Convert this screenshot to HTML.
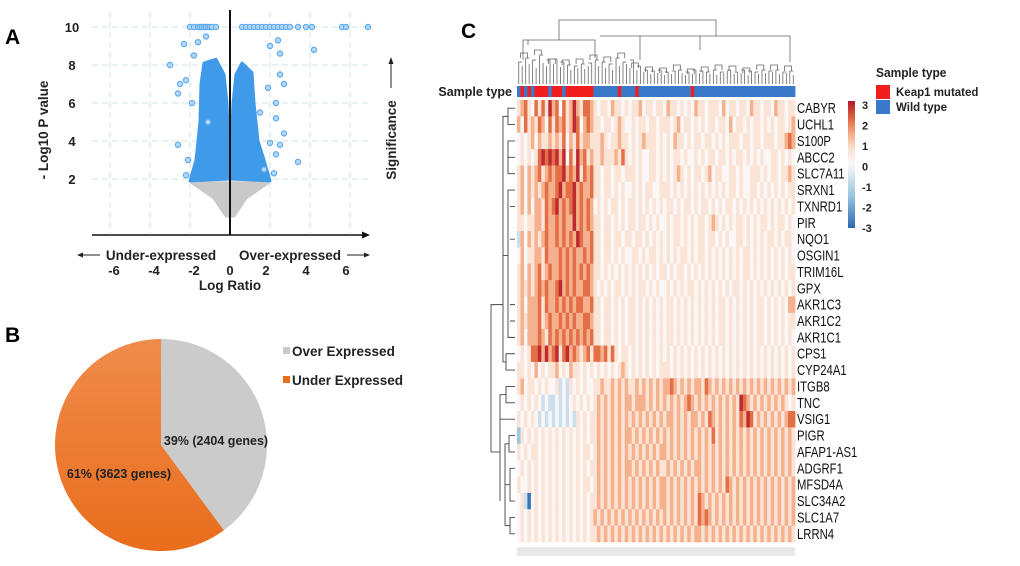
<!DOCTYPE html>
<html><head><meta charset="utf-8"><style>
body{margin:0;background:#fff}
svg{display:block;font-family:"Liberation Sans",sans-serif}
</style></head><body>
<svg id="fig" width="1020" height="566" viewBox="0 0 1020 566">
<g id="pA"></g>
<g id="pB"></g>
<g id="pC"></g>
</svg>
<script>
// ---------- Panel A data ----------
const xTicks = [-6,-4,-2,0,2,4,6];
const yTicks = [2,4,6,8,10];
const leftLobe = [[-0.05,2],[-0.08,4],[-0.15,6],[-0.3,7.5],[-0.7,8.3],[-1.3,8.1],[-1.45,7],[-1.5,5],[-1.7,3],[-2.0,1.9]];
const rightLobe = [[0.05,2],[0.08,4],[0.15,6],[0.3,7.5],[0.6,8.1],[1.1,7.6],[1.2,6],[1.4,4],[1.7,3],[2.0,1.9]];
const grayCone = [[-1.9,1.8],[1.9,1.8],[0.8,1.0],[0.2,0.05],[-0.2,0.05],[-0.8,1.0]];
const topX = [-2.0,-1.8,-1.6,-1.5,-1.4,-1.3,-1.2,-1.1,-1.0,-0.9,-0.7,0.6,0.8,1.0,1.2,1.4,1.6,1.8,2.0,2.2,2.4,2.6,2.8,3.0,3.4,3.8,4.1,5.6,5.8,6.9];
const outX = [-3,-2.3,-2.5,-2.6,-2.6,-2.1,-2.2,-1.8,-1.6,-1.2,2.4,2.0,2.5,4.2,2.5,2.7,2.3,2.3,2.7,2.0,2.5,2.3,3.4,1.7,2.2,-1.1,1.5,-1.9,1.9,-2.2];
const outY = [8,9.1,7,6.5,3.8,3,2.2,8.5,9.2,9.5,9.3,9,8.6,8.8,7.5,7,6,5.2,4.4,3.9,3.8,3.3,2.9,2.5,2.3,5,5.5,6,6.8,7.2];
// ---------- Panel B data ----------
const pieLabels = ["Over Expressed","Under Expressed"];
const pieValues = [2404,3623];
const pieText = ["39% (2404 genes)","61% (3623 genes)"];
// ---------- Panel C data ----------
const genes = ["CABYR","UCHL1","S100P","ABCC2","SLC7A11","SRXN1","TXNRD1","PIR","NQO1","OSGIN1","TRIM16L","GPX","AKR1C3","AKR1C2","AKR1C1","CPS1","CYP24A1","ITGB8","TNC","VSIG1","PIGR","AFAP1-AS1","ADGRF1","MFSD4A","SLC34A2","SLC1A7","LRRN4"];
const sampleType = "WKWKWKKKKWKKKWKKKKKKKK"+"WWWWWWWKWWWWKWWWWWWWWWWWWWWWKWWWWWWWWWWWWWWWWWWWWWWWWWWWWW";
// codes 0..8 -> value (d-4)*0.7
const heatRows = [
"5675475758 6747568657 76 5455465545 4556455455 4655454546 5545554645 5455465545 54655455",
"6475657647 5767568746 76 5545545654 4545545545 5545645545 4545545546 4554545545 45455456",
"4545646556 5657465756 65 5565455655 4545655545 4546554545 5455454545 5545545545 55455676",
"4545457878 7868475867 56 5565556575 4545445545 4545545445 4545545545 4554545454 45545454",
"5646567567 6778676857 67 5545545545 5545445545 4545654545 5456455445 5454455545 45545565",
"5646565676 6786778676 67 5545545454 4545455445 5545454545 4545454545 5454455454 54545455",
"5646466576 7867678676 76 4545455454 5545454545 4554545545 4554545455 4545454545 45454545",
"5545566576 6767668676 76 5545545454 5545545454 4545545454 5545654545 4554545455 45455454",
"3646565676 6767676876 67 5545545545 5455454545 4545545454 5545545454 4554545454 55454554",
"4645566576 6676767667 67 5545545454 4554545545 4545455454 5545454545 4545545454 54545454",
"5646567567 6676767676 76 5545454545 4545454545 5454554545 4545454545 4545545454 54545455",
"5656567676 6786767667 76 5454545545 4545545454 4545454554 5454545454 5545454545 45454545",
"5646667576 6767676776 67 5545545454 5545454545 4554545454 5454545545 4545454554 54545466",
"5656667567 6676767667 76 5545545454 5545454545 4554545454 5454545545 4545454554 54545455",
"5646667657 6767676767 67 5545545454 5545454545 4554545454 5454545545 4545454554 54545454",
"4545778686 7857867656 75 7767575455 4545454545 4545454545 4545454545 4545454545 45454545",
"5545464545 5645465545 45 4545454565 4545454545 5545454545 4545454545 4545454545 45454545",
"5645545454 4534354545 44 5565565656 5565656565 6676565656 6576565656 5656565656 56565656",
"4545454343 3434345454 54 5656565656 6566656565 6565656765 6565656565 6587656565 65656545",
"5454543434 3434343545 45 5656565656 5656565656 5665656566 5657656565 6576875656 56565677",
"2545454545 4545454545 45 5656565656 6565656565 6565656565 6565756565 6565656565 65656565",
"5454554545 4545454545 54 5656565656 5656565656 6565656565 6565656565 6565656565 65656565",
"4545454545 4545454545 45 5656565656 6565656565 5656565656 6565656565 6565656565 65656565",
"5445454545 4545454545 54 5656565656 5656565656 6565656565 6565656576 5656565656 56565656",
"4530454545 4545454545 45 5656565656 5656565656 6565656565 7656565656 5656565656 56565656",
"4545454545 4545454545 45 6565656565 6565656565 6565656565 7676565656 5656565656 56565656",
"4545454545 4545454545 45 5656565656 5656565656 5656565656 6565656565 6565656565 65656565"
];
const colorTicks = [3,2,1,0,-1,-2,-3];
const leafHeights = [62,66,58,64,60,68,55,63,66,60,64,59,67,62,65,70,66,68,64,69,66,63,60,66,62,68,64,70,58,66,62,64,68,60,70,66,72,70,74,71,73,70,75,72,74,71,70,73,75,72,74,70,73,71,72,74,70,75,72,73,71,70,74,72,73,70,75,71,72,74,70,73,71,72,70,74,72,73,71,75];

const NS="http://www.w3.org/2000/svg";
function mk(tag,attrs,parent,txt){const e=document.createElementNS(NS,tag);for(const k in attrs)e.setAttribute(k,attrs[k]);if(txt!==undefined)e.textContent=txt;parent.appendChild(e);return e;}

// ---------- Panel A ----------
const A=document.getElementById('pA');
const xs=v=>230+v*20, ys=v=>217-v*19;
let t=mk('text',{x:5,y:44,'font-size':21,'font-weight':'bold'},A,'A');


const grid=mk('g',{stroke:'#cfe3ea','stroke-width':1,'stroke-dasharray':'6,4'},A);


xTicks.forEach(v=>{mk('line',{x1:xs(v),x2:xs(v),y1:12,y2:233},grid);});
[...yTicks].forEach(v=>{mk('line',{x1:92,x2:370,y1:ys(v),y2:ys(v)},grid);});
function poly(pts,fill,name){const p=mk('polygon',{points:pts.map(q=>xs(q[0])+','+ys(q[1])).join(' '),fill:fill,stroke:fill,'stroke-width':3,'stroke-linejoin':'round'},A);}
poly(grayCone,'#c9c9c9','nonsignificant-cloud');
poly(leftLobe,'#3f9be9','underexpressed-cloud');
poly(rightLobe,'#3f9be9','overexpressed-cloud');
const pts=mk('g',{fill:'#b5d8f7',stroke:'#5eaaee','stroke-width':1.2},A);


topX.forEach(v=>{const c=mk('circle',{cx:xs(v),cy:ys(10),r:2.6},pts);});
outX.forEach((v,i)=>{const c=mk('circle',{cx:xs(v),cy:ys(outY[i]),r:2.6},pts);});
mk('line',{x1:230,x2:230,y1:10,y2:235,stroke:'#111','stroke-width':2},A);
const xax=mk('line',{x1:92,x2:364,y1:235,y2:235,stroke:'#111','stroke-width':1.5},A);

mk('polygon',{points:'370,235 362,231.5 362,238.5',fill:'#111'},A);
const lab=mk('g',{'font-size':13,'font-weight':'bold',fill:'#222'},A);
yTicks.forEach(v=>{const e=mk('text',{x:72,y:ys(v)+5,'text-anchor':'middle'},lab,String(v));});
xTicks.forEach(v=>{const e=mk('text',{x:xs(v)+(v<0?4:v>0?-4:0),y:275,'text-anchor':'middle'},lab,String(v));});
t=mk('text',{x:161,y:260,'text-anchor':'middle','font-size':13.5,'font-weight':'bold',fill:'#222'},A,'Under-expressed');
t=mk('text',{x:290,y:260,'text-anchor':'middle','font-size':13.5,'font-weight':'bold',fill:'#222'},A,'Over-expressed');
mk('line',{x1:80,x2:100,y1:255,y2:255,stroke:'#222','stroke-width':1},A);mk('polygon',{points:'77,255 83,252.5 83,257.5',fill:'#222'},A);
mk('line',{x1:347,x2:366,y1:255,y2:255,stroke:'#222','stroke-width':1},A);mk('polygon',{points:'370,255 364,252.5 364,257.5',fill:'#222'},A);
t=mk('text',{x:230,y:290,'text-anchor':'middle','font-size':13.5,'font-weight':'bold',fill:'#222'},A,'Log Ratio');
t=mk('text',{x:0,y:0,'text-anchor':'middle','font-size':13.5,'font-weight':'bold',fill:'#222',transform:'translate(48,130) rotate(-90)'},A,'- Log10 P value');
t=mk('text',{x:0,y:0,'text-anchor':'middle','font-size':13.5,'font-weight':'bold',fill:'#222',transform:'translate(396,140) rotate(-90)'},A,'Significance');
mk('line',{x1:391,x2:391,y1:62,y2:88,stroke:'#222','stroke-width':1},A);mk('polygon',{points:'391,57 388.5,64 393.5,64',fill:'#222'},A);

// ---------- Panel B ----------
const B=document.getElementById('pB');
t=mk('text',{x:5,y:342,'font-size':21,'font-weight':'bold'},B,'B');
const defs=mk('defs',{},B);
const lg=mk('linearGradient',{id:'og',x1:0,y1:0,x2:0,y2:1},defs);
mk('stop',{offset:0,'stop-color':'#ef8c4c'},lg);mk('stop',{offset:1,'stop-color':'#e96d1c'},lg);
const cx=161,cy=445,R=106,total=pieValues.reduce((a,b)=>a+b,0);
const pieFill=['#cbcbcb','url(#og)'];
let ang=-Math.PI/2;
pieValues.forEach((v,i)=>{const a2=ang+v/total*2*Math.PI;const large=(a2-ang)>Math.PI?1:0;
 const d=`M${cx},${cy} L${cx+R*Math.cos(ang)},${cy+R*Math.sin(ang)} A${R},${R} 0 ${large} 1 ${cx+R*Math.cos(a2)},${cy+R*Math.sin(a2)} Z`;
 const p=mk('path',{d:d,fill:pieFill[i]},B);ang=a2;});
t=mk('text',{x:216,y:445,'text-anchor':'middle','font-size':12.5,'font-weight':'bold',fill:'#222'},B,pieText[0]);
t=mk('text',{x:119,y:478,'text-anchor':'middle','font-size':12.5,'font-weight':'bold',fill:'#222'},B,pieText[1]);
pieLabels.forEach((l,i)=>{const g=mk('g',{},B);
 mk('rect',{x:283,y:347+i*29,width:7,height:7,fill:i?'#e96d1c':'#c9c9c9'},g);
 mk('text',{x:292,y:356+i*29,'font-size':13.5,'font-weight':'bold',fill:'#222'},g,l);});

// ---------- Panel C ----------
const C=document.getElementById('pC');
t=mk('text',{x:461,y:38,'font-size':21,'font-weight':'bold'},C,'C');
const H0=100,H1=542,X0=517,X1=795;
const ncol=sampleType.length, cw=(X1-X0)/ncol, rh=(H1-H0)/genes.length;
const cx0=i=>X0+i*cw;
function col(v){const stops=[[-3,[43,104,176]],[-1.5,[150,196,224]],[0,[250,247,246]],[0.7,[251,228,214]],[1.4,[245,176,142]],[2.1,[228,110,70]],[3,[178,24,43]]];
 v=Math.max(-3,Math.min(3,v));for(let k=0;k<stops.length-1;k++){const[a,ca]=stops[k],[b,cb]=stops[k+1];if(v<=b){const f=(v-a)/(b-a);return 'rgb('+ca.map((c,j)=>Math.round(c+(cb[j]-c)*f)).join(',')+')';}}return 'rgb(178,24,43)';}
const hm=mk('g',{},C);
heatRows.forEach((s,r)=>{const str=s.replace(/ /g,'');for(let i=0;i<ncol;i++){const d=+str[i%str.length];
 const rc=mk('rect',{x:cx0(i),y:H0+r*rh,width:cw+0.4,height:rh+0.3,fill:col((d-4)*0.7)},hm);}});
const st=mk('g',{},C);
for(let i=0;i<ncol;i++){const rc=mk('rect',{x:cx0(i),y:86,width:cw+0.4,height:11,fill:sampleType[i]==='K'?'#f01e1e':'#3a78c9'},st);}
t=mk('text',{x:512,y:96,'text-anchor':'end','font-size':12.5,'font-weight':'bold',fill:'#222'},C,'Sample type');
mk('rect',{x:X0,y:547,width:X1-X0,height:9,fill:'#e8e8ea'},C);
// column dendrogram
const dg=mk('g',{stroke:'#666','stroke-width':0.8,fill:'none'},C);
for(let i=0;i<ncol;i++){const xa=cx0(i)+cw/2,h=leafHeights[i];mk('path',{d:`M${xa},84 V${h}`},dg);}
for(let i=0;i<ncol-1;i+=2){const xa=cx0(i)+cw/2,xb=cx0(i+1)+cw/2,h=Math.min(leafHeights[i],leafHeights[i+1]);mk('path',{d:`M${xa},${h} H${xb}`},dg);}
for(let i=0;i<ncol-3;i+=4){const xa=cx0(i+0.5)+cw/2,xb=cx0(i+2.5)+cw/2,h=Math.min(leafHeights[i],leafHeights[i+2])-5;mk('path',{d:`M${xa},${h+5} V${h} H${xb} V${h+5}`},dg);}
mk('path',{d:'M523,60 V40 H595 V58 M528,45 V40 M559,40 V20 H716 V36 M600,36 H790 V62 M640,36 V60 M700,36 V50'},dg);
// row dendrogram
const rd=mk('g',{stroke:'#444','stroke-width':0.9,fill:'none'},C);
const ry=r=>H0+r*rh+rh/2;
mk('path',{d:`M515,${ry(0)} H508 V${ry(1)} H515 M515,${ry(2)} H508 V${ry(4)} H515 M508,${ry(3)} H515 M508,${(ry(0)+ry(1))/2} H503 V${ry(9)} H508 M508,${ry(5)} H515 M508,${ry(5)} V${ry(14)} H515 M510,${ry(6)} H515 M510,${ry(8)} H515 M510,${ry(12)} H515 M510,${ry(13)} H515 M515,${ry(15)} H506 V${ry(16)} H515 M503,${ry(9)} V${ry(15.5)} H506 M503,${ry(12)} H491 V${ry(21)} H500 M515,${ry(17)} H506 V${ry(18)} H515 M506,${ry(17.5)} H500 V${ry(24)} M515,${ry(19)} H500 M515,${ry(20)} H509 V${ry(21)} H515 M509,${ry(20.5)} H505 V${ry(25.5)} M515,${ry(22)} H510 V${ry(24)} H515 M510,${ry(23)} H505 M515,${ry(25)} H510 V${ry(26)} H515 M510,${ry(25.5)} H505`},rd);
// gene labels
genes.forEach((g,r)=>{const e=mk('text',{x:0,y:0,'font-size':14.5,fill:'#111',transform:`translate(797,${ry(r)+5}) scale(0.78,1)`},C,g);});
// color bar
const cbg=mk('linearGradient',{id:'cb',x1:0,y1:0,x2:0,y2:1},defs);
[3,2.1,1.4,0.7,0,-1.5,-3].forEach(v=>mk('stop',{offset:(3-v)/6,'stop-color':col(v)},cbg));
const cb=mk('rect',{x:848,y:101,width:7,height:127,fill:'url(#cb)'},C);
colorTicks.forEach(v=>{const e=mk('text',{x:862,y:101+(3-v)/6*123+8,'font-size':11,'font-weight':'bold',fill:'#222'},C,String(v));});
// legend
t=mk('text',{x:876,y:77,'font-size':13,'font-weight':'bold',fill:'#222',transform:'translate(876,77) scale(0.92,1) translate(-876,-77)'},C,'Sample type');
[['Keap1 mutated','#f01e1e'],['Wild type','#3a78c9']].forEach((l,i)=>{const g=mk('g',{},C);
 mk('rect',{x:876,y:85+i*15,width:14,height:14,fill:l[1]},g);
 mk('text',{x:896,y:96+i*15,'font-size':11.5,'font-weight':'bold',fill:'#222'},g,l[0]);});
</script>
</body></html>
